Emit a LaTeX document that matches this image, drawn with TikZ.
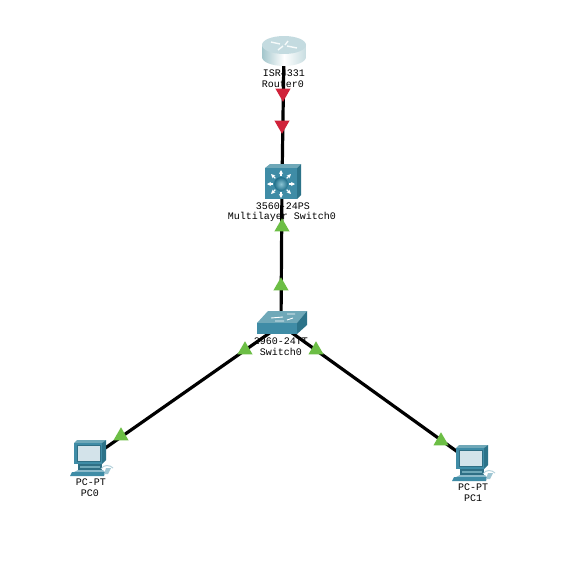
\documentclass[tikz,border=0pt]{standalone}
\usepackage{fontspec}
\setmainfont{Liberation Mono}
\usetikzlibrary{shapes.geometric,arrows.meta}
\definecolor{tealfront}{HTML}{3F8CA6}
\definecolor{tealtop}{HTML}{6FA8B8}
\definecolor{tealside}{HTML}{2C7389}
\definecolor{tealdark}{HTML}{2F6F85}
\definecolor{screen}{HTML}{D3E3EA}
\definecolor{flagred}{HTML}{D0223A}
\definecolor{flaggreen}{HTML}{6CBE45}
\definecolor{routerside}{HTML}{A3C6CC}
\definecolor{routertop}{HTML}{C4DBE0}
\definecolor{ballcore}{HTML}{8CC4D4}
\definecolor{ballrim}{HTML}{1F6F8A}
\tikzset{
  x=1pt,y=-1pt,
  devlabel/.style={font=\fontsize{10}{11}\selectfont,inner sep=0pt,text=black},
  linkline/.style={draw=black,line width=3.2pt},
  flag/.style={regular polygon,regular polygon sides=3,minimum size=17.5pt,inner sep=0pt,outer sep=0pt,draw=none},
  flagdown/.style={flag,fill=flagred,shape border rotate=180},
  flagup/.style={flag,fill=flaggreen},
  pcicon/.pic={
    % base
    \fill[tealfront!60!white] (-13,12) -- (12,12) -- (14,14) -- (-17,14) -- cycle;
    \fill[tealfront] (-19,14) -- (14,14) -- (13,18) -- (-21,18) -- cycle;
    % stand
    \fill[tealdark] (-13,6) rectangle (11,12);
    \fill[tealtop] (-11,8) rectangle (9,9.5);
    % monitor
    \fill[tealside] (11,-18) -- (15,-18) -- (15,2) -- (11,6) -- cycle;
    \fill[tealtop] (-14,-18) -- (15,-18) -- (11,-15) -- (-17,-15) -- cycle;
    \fill[tealfront] (-17,-15) rectangle (11,6);
    \fill[screen] (-14,-13) rectangle (9,3);
    \draw[tealdark,line width=.6pt] (-14,-13) rectangle (9,3);
    % mouse
    \draw[tealtop!50!white,line width=1pt] (10,11) .. controls (13,6) and (19,7) .. (22,10);
    \fill[tealfront!50!white] (13,16) -- (15,10) -- (20,10) -- (17,16) -- cycle;
  },
  routericon/.pic={
    \shade[left color=routerside,right color=routerside!60!white,middle color=white]
      (-22,-5) -- (-22,7) .. controls (-22,12) and (-12,16) .. (0,16) .. controls (12,16) and (22,12) .. (22,7) -- (22,-5) -- cycle;
    \fill[routertop] (0,-5) ellipse[x radius=22,y radius=9];
    \draw[white!85!routertop,line width=1.4pt] (-13,-8) -- (-4,-6) (4,-9) -- (1,-5) (-1,-4) -- (-6,0) (3,-4) -- (13,-2);
  },
  mlsicon/.pic={
    \fill[tealtop] (-17,-16) -- (-12,-20) -- (19,-20) -- (15,-16) -- cycle;
    \fill[tealside] (15,-16) -- (19,-20) -- (19,11) -- (15,15) -- cycle;
    \fill[tealfront] (-17,-16) rectangle (15,15);
    \foreach \a in {0,45,...,315}{
      \draw[white,line width=1.1pt,-{Stealth[length=4pt,width=4pt]}] (-1,0) ++(\a:8) -- ++(\a:6);
    }
    \shade[inner color=ballcore,outer color=ballrim] (-1,0) circle[radius=7];
  },
  switchicon/.pic={
    \fill[tealtop] (-24,-2) -- (-13,-14) -- (26,-14) -- (16,-2) -- cycle;
    \fill[tealfront] (-24,-2) rectangle (16,9);
    \fill[tealside] (16,-2) -- (26,-14) -- (26,0) -- (16,9) -- cycle;
    \draw[white,line width=.9pt] (-10,-7) -- (2,-8) (6,-11) -- (14,-11) (-6,-4) -- (3,-4) (6,-5) -- (12,-7);
  }
}
\begin{document}
\begin{tikzpicture}
\useasboundingbox (0,0) rectangle (578,587);
\fill[white] (0,0) rectangle (578,587);
% device anchors
\coordinate (router) at (284,50);
\coordinate (mls) at (282,184);
\coordinate (sw) at (281,325);
\coordinate (pczero) at (91,458);
\coordinate (pcone) at (473,463);
% labels
\node[devlabel] (routermodel) at (284,73) {ISR4331};
\node[devlabel] (routername) at (283,84) {Router0};
\node[devlabel] (mlsmodel) at (283,206) {3560-24PS};
\node[devlabel] (mlsname) at (282,217) {Multilayer Switch0};
\node[devlabel] (swmodel) at (281,341) {2960-24TT};
\node[devlabel] (swname) at (281,352) {Switch0};
\node[devlabel] (pczeromodel) at (91,482) {PC-PT};
\node[devlabel] (pczeroname) at (90,493) {PC0};
\node[devlabel] (pconemodel) at (473,487) {PC-PT};
\node[devlabel] (pconename) at (473,498) {PC1};
% links
\draw[linkline] (router) -- (mls);
\draw[linkline] (mls) -- (sw);
\draw[linkline] (sw) -- (pczero);
\draw[linkline] (sw) -- (pcone);
% icons
\pic at (router) {routericon};
\pic at (mls) {mlsicon};
\pic at (sw) {switchicon};
\pic at (pczero) {pcicon};
\pic at (pcone) {pcicon};
% link state flags
\node[flagdown] (fa) at (283,93) {};
\node[flagdown] (fb) at (282,125) {};
\node[flagup] (fc) at (282,227) {};
\node[flagup] (fd) at (281,286) {};
\node[flagup] (fe) at (245,350) {};
\node[flagup] (ff) at (316,350) {};
\node[flagup] (fg) at (121,436) {};
\node[flagup] (fh) at (441,441) {};
\end{tikzpicture}
\end{document}
